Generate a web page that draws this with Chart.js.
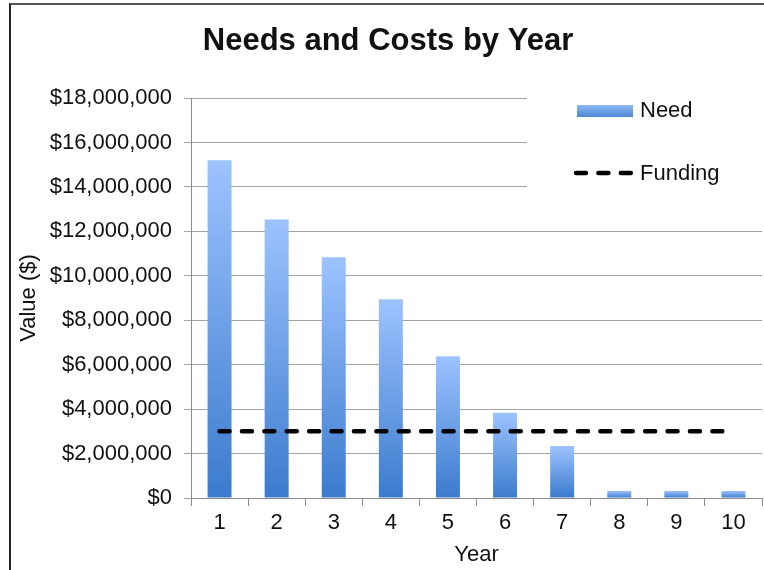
<!DOCTYPE html>
<html>
<head>
<meta charset="utf-8">
<title>Needs and Costs by Year</title>
<script src="https://cdn.jsdelivr.net/npm/chart.js@4.4.1/dist/chart.umd.min.js"></script>
<style>
  html, body { margin: 0; padding: 0; background: #fff; }
  #wrap { position: relative; width: 764px; height: 570px; overflow: hidden; }
  #frame {
    position: absolute; left: 9px; top: 3px; width: 800px; height: 600px;
    border-left: 2px solid #222; border-top: 2px solid #555;
  }
  #c { position: absolute; left: 0; top: 0; }
</style>
</head>
<body>
<div id="wrap">
  <div id="frame"></div>
  <canvas id="c" width="764" height="570"></canvas>
</div>
<script>
// === DATA ===
const years = ["1", "2", "3", "4", "5", "6", "7", "8", "9", "10"];
const needValues = [15200000, 12530000, 10830000, 8940000, 6380000, 3840000, 2340000, 315000, 315000, 315000];
const fundingValues = [3000000, 3000000, 3000000, 3000000, 3000000, 3000000, 3000000, 3000000, 3000000, 3000000];
const yTickValues = [0, 2000000, 4000000, 6000000, 8000000, 10000000, 12000000, 14000000, 16000000, 18000000];

const FONT = "'Liberation Sans', Arial, sans-serif";
const TEXT = "#111";

// bar gradient, light on top, dark at the base (per bar)
function needGradient(c) {
  const chart = c.chart;
  const area = chart.chartArea;
  if (!area || c.type !== "data") return "#6a9fe6";
  const y = chart.scales.y;
  const top = y.getPixelForValue(c.raw);
  const base = y.getPixelForValue(0);
  const g = chart.ctx.createLinearGradient(0, top, 0, base);
  g.addColorStop(0, "#9dc3ff");
  g.addColorStop(1, "#3b7bcd");
  return g;
}

// === LEGEND (boxed, top right, over the grid) ===
const legendBox = {
  id: "legendBox",
  beforeDatasetsDraw(chart) {
    const ctx = chart.ctx;
    const ds = chart.data.datasets;
    ctx.save();
    ctx.fillStyle = "#fff";
    ctx.fillRect(527, 88, 237, 114);

    // Need swatch
    const g = ctx.createLinearGradient(0, 105, 0, 117);
    g.addColorStop(0, "#8fbaf4");
    g.addColorStop(1, "#4a86d4");
    ctx.fillStyle = g;
    ctx.fillRect(577, 105, 56, 12);

    // Funding swatch
    ctx.strokeStyle = ds[1].borderColor;
    ctx.lineWidth = ds[1].borderWidth;
    ctx.lineCap = "round";
    ctx.setLineDash(ds[1].borderDash);
    ctx.beginPath();
    ctx.moveTo(576, 173);
    ctx.lineTo(634, 173);
    ctx.stroke();
    ctx.setLineDash([]);

    ctx.fillStyle = TEXT;
    ctx.font = "22px " + FONT;
    ctx.textBaseline = "middle";
    ctx.textAlign = "left";
    ctx.fillText(ds[0].label, 640, 111);
    ctx.fillText(ds[1].label, 640, 174);
    ctx.restore();
  }
};

new Chart(document.getElementById("c"), {
  type: "bar",
  data: {
    labels: years,
    datasets: [
      {
        label: "Need",
        data: needValues,
        backgroundColor: needGradient,
        borderWidth: 0,
        categoryPercentage: 1,
        barPercentage: 0.42,
        order: 2
      },
      {
        label: "Funding",
        type: "line",
        data: fundingValues,
        borderColor: "#000",
        borderWidth: 4.5,
        borderDash: [10, 12.4],
        borderCapStyle: "round",
        pointRadius: 0,
        fill: false,
        order: 1
      }
    ]
  },
  options: {
    responsive: false,
    animation: false,
    events: [],
    layout: { padding: { left: 14, right: 2, top: 0, bottom: 0 } },
    plugins: {
      legend: { display: false },
      tooltip: { enabled: false },
      title: {
        display: true,
        text: "Needs and Costs by Year",
        color: TEXT,
        font: { family: FONT, size: 31, weight: "bold", lineHeight: 1.2 },
        padding: { top: 23, bottom: 37.8 }
      }
    },
    scales: {
      x: {
        grid: { display: true, drawOnChartArea: false, drawTicks: true, tickLength: 8, color: "#8c8c8c", offset: true },
        border: { color: "#8c8c8c", width: 1 },
        ticks: { color: TEXT, font: { family: FONT, size: 22 }, padding: 4, maxRotation: 0 },
        title: { display: true, text: "Year", color: TEXT, font: { family: FONT, size: 22 }, padding: { top: 0, bottom: 2 } },
        afterFit(scale) { scale.height = 72; }
      },
      y: {
        min: 0,
        max: 18000000,
        afterBuildTicks(scale) { scale.ticks = yTickValues.map(v => ({ value: v })); },
        grid: { color: "#a3a3a3", lineWidth: 1, drawTicks: true, tickLength: 7 },
        border: { color: "#8c8c8c", width: 1 },
        ticks: {
          color: TEXT,
          font: { family: FONT, size: 22 },
          padding: 12,
          callback: v => "$" + Number(v).toLocaleString("en-US")
        },
        title: { display: true, text: "Value ($)", color: TEXT, font: { family: FONT, size: 22 }, padding: { top: 2, bottom: 0 } },
        afterFit(scale) { scale.width = 177; }
      }
    }
  },
  plugins: [legendBox]
});
</script>
</body>
</html>
